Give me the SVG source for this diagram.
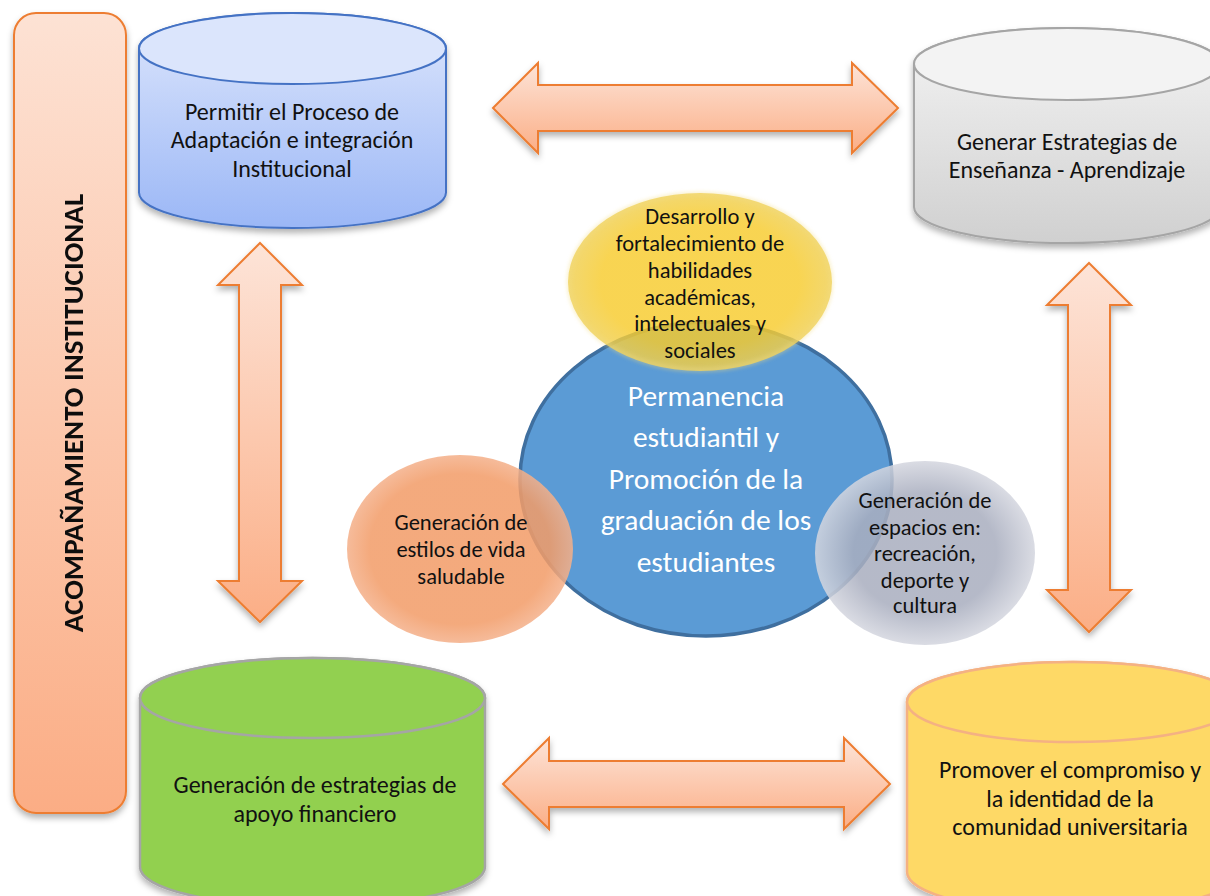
<svg xmlns="http://www.w3.org/2000/svg" width="1210" height="896" viewBox="0 0 1210 896">
<defs>
<style>
.t{font-family:Carlito,Lato,"Open Sans",sans-serif;font-size:24px;fill:#111;text-anchor:middle}
.s{font-family:Carlito,Lato,"Open Sans",sans-serif;font-size:22.5px;fill:#111;text-anchor:middle}
.w{font-family:Carlito,Lato,"Open Sans",sans-serif;font-size:29.5px;fill:#fff;text-anchor:middle}
.arrow{fill:url(#gArrow);stroke:#ed7d31;stroke-width:2;stroke-linejoin:miter}
</style>
<filter id="sh" x="-10%" y="-10%" width="120%" height="130%">
<feDropShadow dx="0" dy="4" stdDeviation="3" flood-color="#000" flood-opacity="0.3"/>
</filter>
<filter id="glow" x="-20%" y="-20%" width="140%" height="140%">
<feGaussianBlur stdDeviation="2"/>
</filter>
<linearGradient id="gArrow" x1="0" y1="0" x2="0" y2="1">
<stop offset="0" stop-color="#fde4d8"/>
<stop offset="1" stop-color="#fbae86"/>
</linearGradient>
<linearGradient id="gSide" x1="0" y1="0" x2="0" y2="1">
<stop offset="0" stop-color="#fde2d4"/>
<stop offset="1" stop-color="#fbad85"/>
</linearGradient>
<linearGradient id="gBlue" x1="0" y1="0" x2="0" y2="1">
<stop offset="0" stop-color="#dde6fc"/>
<stop offset="1" stop-color="#9bb7f6"/>
</linearGradient>
<linearGradient id="gGray" x1="0" y1="0" x2="0" y2="1">
<stop offset="0" stop-color="#f4f4f4"/>
<stop offset="1" stop-color="#d0d0d0"/>
</linearGradient>
<radialGradient id="gYel" cx="0.5" cy="0.5" r="0.5">
<stop offset="0.75" stop-color="#f7cb2c"/>
<stop offset="1" stop-color="#efcf52"/>
</radialGradient>
<radialGradient id="gOra" cx="0.5" cy="0.5" r="0.5">
<stop offset="0.8" stop-color="#f29c68"/>
<stop offset="1" stop-color="#f4b08a"/>
</radialGradient>
<radialGradient id="gGry" cx="0.5" cy="0.5" r="0.5">
<stop offset="0.65" stop-color="#a9aebf"/>
<stop offset="1" stop-color="#d4d6df"/>
</radialGradient>
</defs>
<rect width="1210" height="896" fill="#fff"/>

<g id="side-bar" filter="url(#sh)">
<rect x="14" y="13" width="112" height="800" rx="22" fill="url(#gSide)" stroke="#ed7d31" stroke-width="2"/>
<text transform="translate(83,413) rotate(-90)" text-anchor="middle" font-family="Carlito,Lato,'Open Sans',sans-serif" font-weight="bold" font-size="29" fill="#111">ACOMPAÑAMIENTO INSTITUCIONAL</text>
</g>

<g id="connectors">
<polygon class="arrow" filter="url(#sh)" points="493,108 538,63 538,85 852,85 852,63 898,108 852,153 852,131 538,131 538,153"/>
<polygon class="arrow" filter="url(#sh)" points="503,784 549,738 549,761 844,761 844,738 890,784 844,829 844,807 549,807 549,829"/>
<polygon class="arrow" filter="url(#sh)" points="260,243 302,285 281,285 281,581 302,581 260,622 218,581 239,581 239,285 218,285"/>
<polygon class="arrow" filter="url(#sh)" points="1089,263 1131,305 1110,305 1110,590 1131,590 1089,632 1047,590 1068,590 1068,305 1047,305"/>
</g>

<g id="cyl-adaptacion">
<path filter="url(#sh)" d="M139,48.5 L139,192.5 A153.5,35.5 0 0 0 446,192.5 L446,48.5 A153.5,35.5 0 0 0 139,48.5 Z" fill="url(#gBlue)" stroke="#4472c4" stroke-width="2"/>
<ellipse cx="292.5" cy="48.5" rx="153.5" ry="35.5" fill="#dbe5fc" stroke="#4472c4" stroke-width="2"/>
<text class="t" x="292" y="120">Permitir el Proceso de</text>
<text class="t" x="292" y="148">Adaptación e integración</text>
<text class="t" x="292" y="177">Institucional</text>
</g>

<g id="cyl-ensenanza">
<path filter="url(#sh)" d="M914,64 L914,207 A153,36 0 0 0 1220,207 L1220,64 A153,36 0 0 0 914,64 Z" fill="url(#gGray)" stroke="#a5a5a5" stroke-width="2"/>
<ellipse cx="1067" cy="64" rx="153" ry="36" fill="#f3f3f3" stroke="#a5a5a5" stroke-width="2"/>
<text class="t" x="1067" y="150">Generar Estrategias de</text>
<text class="t" x="1067" y="178">Enseñanza - Aprendizaje</text>
</g>

<g id="cyl-financiero">
<path filter="url(#sh)" d="M140,698 L140,867 A172.5,40 0 0 0 485,867 L485,698 A172.5,40 0 0 0 140,698 Z" fill="#92d050" stroke="#a5a5a5" stroke-width="2.5"/>
<ellipse cx="312.5" cy="698" rx="172.5" ry="40" fill="#92d050" stroke="#a5a5a5" stroke-width="2.5"/>
<text class="t" x="315" y="793">Generación de estrategias de</text>
<text class="t" x="315" y="822">apoyo financiero</text>
</g>

<g id="cyl-compromiso">
<path filter="url(#sh)" d="M907,702 L907,872 A166,40 0 0 0 1239,872 L1239,702 A166,40 0 0 0 907,702 Z" fill="#fed966" stroke="#f4b183" stroke-width="2.5"/>
<ellipse cx="1073" cy="702" rx="166" ry="40" fill="#fed966" stroke="#f4b183" stroke-width="2.5"/>
<text class="t" x="1070" y="778">Promover el compromiso y</text>
<text class="t" x="1070" y="807">la identidad de la</text>
<text class="t" x="1070" y="835">comunidad universitaria</text>
</g>

<g id="center-permanencia">
<ellipse cx="706" cy="479" rx="186" ry="157" fill="#5b9bd5" stroke="#3f6f9f" stroke-width="3.5"/>
</g>

<g id="circle-habilidades">
<ellipse cx="700" cy="282" rx="132" ry="89" fill="url(#gYel)" opacity="0.82"/>
<ellipse cx="700" cy="282" rx="131" ry="88" fill="none" stroke="#f3dc80" stroke-width="3" opacity="0.6" filter="url(#glow)"/>
<text class="s" x="700" y="224">Desarrollo y</text>
<text class="s" x="700" y="251">fortalecimiento de</text>
<text class="s" x="700" y="278">habilidades</text>
<text class="s" x="700" y="305">académicas,</text>
<text class="s" x="700" y="331">intelectuales y</text>
<text class="s" x="700" y="358">sociales</text>
</g>

<g id="circle-saludable">
<ellipse cx="460" cy="549" rx="113" ry="94" fill="url(#gOra)" opacity="0.86"/>
<text class="s" x="461" y="530">Generación de</text>
<text class="s" x="461" y="557">estilos de vida</text>
<text class="s" x="461" y="584">saludable</text>
</g>

<g id="circle-espacios">
<ellipse cx="925" cy="553" rx="110" ry="92" fill="url(#gGry)" opacity="0.86"/>
<text class="s" x="925" y="508">Generación de</text>
<text class="s" x="925" y="535">espacios en:</text>
<text class="s" x="925" y="561">recreación,</text>
<text class="s" x="925" y="588">deporte y</text>
<text class="s" x="925" y="613">cultura</text>
</g>

<g id="center-text">
<text class="w" x="706" y="406">Permanencia</text>
<text class="w" x="706" y="447">estudiantil y</text>
<text class="w" x="706" y="489">Promoción de la</text>
<text class="w" x="706" y="530">graduación de los</text>
<text class="w" x="706" y="572">estudiantes</text>
</g>
</svg>
